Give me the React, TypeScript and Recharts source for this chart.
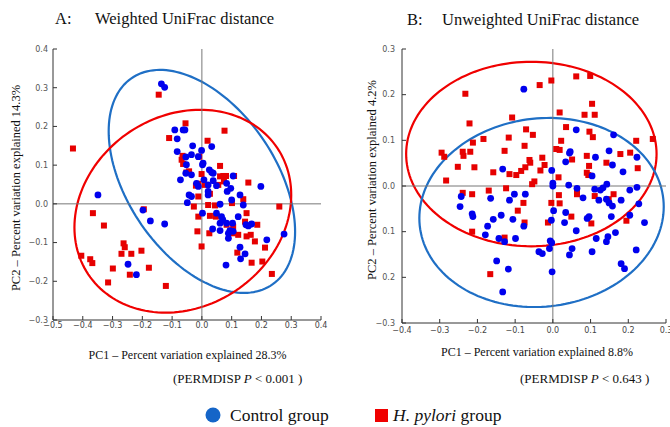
import React from 'react';
import { ScatterChart, Scatter, XAxis, YAxis, ReferenceLine, ReferenceArea } from 'recharts';

// ---- Panel A: weighted UniFrac, PC1 / PC2 ----
const weightedControl: [number, number][] = [
  [-0.136, 0.310], [-0.125, 0.301], [-0.091, 0.191], [-0.063, 0.191], [-0.057, 0.191],
  [-0.083, 0.168], [-0.031, 0.150], [-0.001, 0.138], [0.033, 0.148], [-0.083, 0.135],
  [-0.054, 0.121], [-0.035, 0.127], [-0.012, 0.122], [0.004, 0.105], [0.002, 0.101],
  [0.025, 0.088], [0.033, 0.081], [-0.052, 0.101], [-0.054, 0.079], [-0.072, 0.062],
  [-0.035, 0.075], [-0.018, 0.053], [-0.012, 0.045], [0.007, 0.062], [0.021, 0.049],
  [0.038, 0.060], [0.049, 0.047], [0.083, 0.053], [0.085, 0.032], [0.097, 0.040],
  [0.105, 0.072], [-0.043, 0.023], [-0.035, 0.019], [0.021, 0.032], [0.021, 0.023],
  [-0.049, 0.003], [-0.349, 0.023], [-0.198, -0.016], [-0.173, -0.044], [-0.125, -0.052],
  [0.002, -0.024], [0.061, -0.001], [0.100, 0.010], [0.128, 0.023], [0.139, -0.003],
  [0.049, -0.024], [0.066, -0.033], [0.061, -0.050], [0.070, -0.041], [0.083, -0.050],
  [0.103, -0.050], [0.061, -0.069], [0.036, -0.065], [0.089, -0.076], [0.094, -0.069],
  [0.105, -0.071], [0.089, -0.089], [0.122, -0.033], [0.148, -0.054], [0.156, -0.057],
  [0.167, -0.052], [0.198, 0.045], [0.218, -0.093], [0.276, -0.078], [0.128, -0.112],
  [0.145, -0.129], [0.130, -0.142], [0.081, -0.158], [-0.248, -0.156], [-0.220, -0.183],
  [0.038, 0.079],
];

const weightedPylori: [number, number][] = [
  [-0.145, 0.282], [-0.055, 0.208], [-0.110, 0.170], [0.019, 0.163], [0.076, 0.189],
  [-0.433, 0.143], [-0.065, 0.124], [-0.068, 0.114], [-0.009, 0.122], [-0.063, 0.103],
  [-0.052, 0.081], [-0.043, 0.084], [-0.001, 0.077], [0.061, 0.098], [0.061, 0.071],
  [0.072, 0.072], [0.081, 0.072], [0.074, 0.058], [-0.012, 0.052], [-0.020, 0.047],
  [0.010, 0.049], [0.055, 0.049], [0.108, 0.072], [0.156, 0.055], [0.027, 0.026],
  [-0.027, -0.007], [-0.012, 0.019], [0.021, -0.003], [0.044, -0.004], [0.101, 0.002],
  [0.139, 0.012], [0.150, -0.024], [0.260, -0.007], [-0.195, -0.014], [-0.366, -0.024],
  [-0.329, -0.056], [-0.012, -0.033], [0.027, -0.031], [0.047, -0.033], [0.083, -0.054],
  [0.105, -0.059], [0.145, -0.046], [0.186, -0.054], [-0.015, -0.071], [0.025, -0.076],
  [0.122, -0.080], [0.150, -0.084], [0.164, -0.080], [0.178, -0.097], [-0.263, -0.102],
  [-0.259, -0.112], [-0.270, -0.129], [-0.237, -0.129], [-0.203, -0.121], [-0.405, -0.134],
  [-0.375, -0.143], [-0.368, -0.153], [-0.299, -0.167], [-0.242, -0.183], [-0.178, -0.165],
  [-0.315, -0.203], [-0.121, -0.212], [-0.001, -0.110], [0.212, -0.113], [0.119, -0.126],
  [0.167, -0.152], [0.203, -0.149], [0.235, -0.181], [0.105, -0.076],
];

// ---- Panel B: unweighted UniFrac ----
const unweightedControl: [number, number][] = [
  [-0.077, 0.212], [0.062, 0.123], [0.161, 0.112], [0.044, 0.072], [0.046, 0.075],
  [0.034, 0.053], [0.113, 0.063], [0.149, 0.077], [0.158, 0.046], [0.223, 0.063],
  [0.186, 0.031], [-0.133, 0.037], [-0.003, 0.034], [0.104, 0.022], [0.000, 0.006],
  [0.000, 0.000], [0.042, 0.002], [0.064, -0.005], [0.080, -0.026], [0.111, -0.007],
  [0.126, -0.009], [0.133, -0.004], [0.143, 0.004], [0.122, -0.031], [0.142, -0.029],
  [0.149, -0.037], [0.158, -0.044], [0.204, -0.009], [0.223, -0.003], [0.181, -0.031],
  [0.228, -0.039], [-0.243, -0.023], [-0.246, -0.045], [-0.214, -0.061], [-0.212, -0.067],
  [-0.165, -0.027], [-0.115, -0.031], [-0.102, -0.018], [-0.073, -0.018], [-0.137, -0.064],
  [-0.158, -0.073], [-0.173, -0.088], [-0.106, -0.073], [-0.077, -0.088], [-0.179, -0.107],
  [-0.143, -0.115], [-0.099, -0.115], [-0.128, -0.122], [0.002, -0.054], [-0.004, -0.075],
  [0.034, -0.058], [0.031, -0.080], [0.096, -0.067], [0.091, -0.071], [0.062, -0.098],
  [0.155, -0.067], [0.204, -0.064], [0.166, -0.102], [0.243, -0.080], [0.115, -0.115],
  [0.146, -0.111], [0.142, -0.122], [0.181, -0.170], [0.190, -0.181], [0.104, -0.144],
  [0.051, -0.137], [0.044, -0.151], [-0.007, -0.120], [-0.003, -0.124], [-0.009, -0.137],
  [-0.037, -0.144], [-0.028, -0.148], [-0.002, -0.188], [-0.149, -0.164], [-0.118, -0.182],
  [-0.133, -0.232], [0.221, -0.140],
];

const unweightedPylori: [number, number][] = [
  [0.062, 0.240], [0.099, 0.241], [-0.035, 0.221], [-0.004, 0.231], [-0.232, 0.202],
  [0.104, 0.180], [0.111, 0.156], [0.084, 0.156], [0.018, 0.161], [-0.108, 0.150],
  [-0.221, 0.137], [0.035, 0.129], [-0.071, 0.124], [-0.053, 0.112], [0.097, 0.119],
  [0.106, 0.107], [-0.212, 0.095], [-0.184, 0.103], [-0.117, 0.106], [0.022, 0.099],
  [0.221, 0.099], [0.265, 0.103], [-0.075, 0.088], [0.009, 0.081], [0.018, 0.079],
  [-0.128, 0.077], [-0.295, 0.073], [-0.288, 0.064], [-0.239, 0.075], [-0.237, 0.066],
  [-0.219, 0.075], [-0.028, 0.062], [0.051, 0.058], [0.090, 0.066], [0.179, 0.070],
  [0.205, 0.073], [-0.062, 0.057], [-0.060, 0.051], [-0.022, 0.046], [0.142, 0.051],
  [0.096, 0.044], [-0.252, 0.042], [-0.208, 0.041], [-0.073, 0.041], [-0.084, 0.033],
  [-0.097, 0.024], [-0.115, 0.026], [-0.033, 0.034], [-0.158, 0.030], [0.090, 0.029],
  [0.094, 0.024], [0.225, 0.039], [-0.283, 0.012], [-0.049, 0.010], [-0.055, 0.004],
  [0.015, 0.019], [-0.124, -0.005], [-0.170, -0.010], [-0.239, -0.015], [-0.214, -0.018],
  [0.064, -0.012], [0.064, -0.018], [0.016, -0.020], [0.111, -0.022], [0.148, -0.029],
  [0.161, -0.018], [-0.004, -0.037], [0.018, -0.038], [-0.078, -0.037], [-0.093, -0.054],
  [0.049, -0.067], [-0.075, -0.080], [-0.013, -0.080], [0.102, -0.082], [0.195, -0.076],
  [-0.214, -0.100], [-0.128, -0.113], [-0.166, -0.193],
];

// group ellipses: centre, half extents, correlation
const weightedEllipses = [
  { cx: 0.0, cy: 0.058, rx: 0.313, ry: 0.288, rho: -0.45, color: '#1f6fc5' },
  { cx: -0.064, cy: -0.019, rx: 0.364, ry: 0.262, rho: 0.16, color: '#f00000' },
];
const unweightedEllipses = [
  { cx: -0.057, cy: 0.070, rx: 0.332, ry: 0.202, rho: 0.0, color: '#f00000' },
  { cx: -0.030, cy: -0.058, rx: 0.324, ry: 0.207, rho: 0.06, color: '#1f6fc5' },
];

const weightedXTicks = [-0.5, -0.4, -0.3, -0.2, -0.1, 0, 0.1, 0.2, 0.3, 0.4];
const weightedYTicks = [-0.3, -0.2, -0.1, 0, 0.1, 0.2, 0.3, 0.4];
const unweightedXTicks = [-0.4, -0.3, -0.2, -0.1, 0, 0.1, 0.2, 0.3];
const unweightedYTicks = [-0.3, -0.2, -0.1, 0, 0.1, 0.2, 0.3];
const unweightedYLabels = ['\u22120.3', '0.2', '0.1', '0.0', '0.1', '0.2', '0.3'];

const CONTROL = '#0000ee';
const PYLORI = '#e60000';
const AXIS = '#333';
const TICK_FONT = '"DejaVu Sans", sans-serif';
const SERIF = '"Liberation Serif", "Times New Roman", serif';

const fmt = (v: number) => (v < 0 ? '\u2212' : '') + Math.abs(v).toFixed(1);
const toPoints = (arr: [number, number][]) => arr.map(([x, y]) => ({ x, y }));

const Dot = (props: any) => <circle cx={props.cx} cy={props.cy} r={3.4} fill={CONTROL} />;
const Square = (props: any) => <rect x={props.cx - 3} y={props.cy - 3} width={6} height={6} fill={PYLORI} />;

const ellipseShape = (rho: number, color: string) => (props: any) => {
  const { x, y, width, height } = props;
  const cx = x + width / 2;
  const cy = y + height / 2;
  const s = Math.sqrt(1 - rho * rho);
  const pts: string[] = [];
  for (let i = 0; i <= 160; i++) {
    const t = (i / 160) * Math.PI * 2;
    pts.push(`${cx + (width / 2) * Math.cos(t)},${cy - (height / 2) * (rho * Math.cos(t) + s * Math.sin(t))}`);
  }
  return <polygon points={pts.join(' ')} fill="none" stroke={color} strokeWidth={2.2} />;
};

const bottomTick = (margin: number) => (props: any) => {
  const { x, y, payload } = props;
  const ay = y - margin;
  return (
    <g>
      <line x1={x} x2={x} y1={ay} y2={ay - 4} stroke={AXIS} />
      <text x={x} y={y} dy="0.71em" textAnchor="middle" fontSize={8} fontFamily={TICK_FONT} fill="#444">
        {fmt(payload.value)}
      </text>
    </g>
  );
};
const leftTick = (margin: number, labels?: string[], ticks?: number[]) => (props: any) => {
  const { x, y, payload } = props;
  const ax = x + margin;
  const i = ticks ? ticks.indexOf(payload.value) : -1;
  return (
    <g>
      <line x1={ax} x2={ax + 4} y1={y} y2={y} stroke={AXIS} />
      <text x={x} y={y} dy="0.35em" textAnchor="end" fontSize={8} fontFamily={TICK_FONT} fill="#555">
        {labels && i >= 0 ? labels[i] : fmt(payload.value)}
      </text>
    </g>
  );
};
const TopTick = (props: any) => <line x1={props.x} x2={props.x} y1={props.y} y2={props.y + 4} stroke={AXIS} />;
const RightTick = (props: any) => <line x1={props.x} x2={props.x - 4} y1={props.y} y2={props.y} stroke={AXIS} />;

type PanelProps = {
  control: [number, number][];
  pylori: [number, number][];
  ellipses: typeof weightedEllipses;
  xDomain: [number, number];
  yDomain: [number, number];
  xTicks: number[];
  yTicks: number[];
  yLabels?: string[];
  margin: { top: number; right: number; bottom: number; left: number };
  xTickMargin: number;
  yTickMargin: number;
};

const Panel = (p: PanelProps) => (
  <ScatterChart width={335} height={340} margin={p.margin}>
    <XAxis xAxisId="b" type="number" dataKey="x" domain={p.xDomain} ticks={p.xTicks} allowDataOverflow interval={0}
      height={16} tickSize={0} tickMargin={p.xTickMargin} stroke={AXIS} tick={bottomTick(p.xTickMargin)} />
    <XAxis xAxisId="t" type="number" orientation="top" domain={p.xDomain} ticks={p.xTicks} allowDataOverflow interval={0}
      height={0} tickSize={0} tickMargin={0} stroke={AXIS} tick={TopTick} />
    <YAxis yAxisId="l" type="number" dataKey="y" domain={p.yDomain} ticks={p.yTicks} allowDataOverflow interval={0}
      width={30} tickSize={0} tickMargin={p.yTickMargin} stroke={AXIS} tick={leftTick(p.yTickMargin, p.yLabels, p.yTicks)} />
    <YAxis yAxisId="r" type="number" orientation="right" domain={p.yDomain} ticks={p.yTicks} allowDataOverflow interval={0}
      width={0} tickSize={0} tickMargin={0} stroke={AXIS} tick={RightTick} />
    <ReferenceLine xAxisId="b" yAxisId="l" x={0} stroke="#777" strokeWidth={1} />
    <ReferenceLine xAxisId="b" yAxisId="l" y={0} stroke="#777" strokeWidth={1} />
    <Scatter xAxisId="b" yAxisId="l" data={toPoints(p.pylori)} shape={Square} isAnimationActive={false} />
    <Scatter xAxisId="b" yAxisId="l" data={toPoints(p.control)} shape={Dot} isAnimationActive={false} />
    {p.ellipses.map((e, i) => (
      <ReferenceArea key={i} xAxisId="b" yAxisId="l" x1={e.cx - e.rx} x2={e.cx + e.rx} y1={e.cy - e.ry} y2={e.cy + e.ry}
        ifOverflow="visible" shape={ellipseShape(e.rho, e.color)} />
    ))}
  </ScatterChart>
);

export default function App() {
  return (
    <div style={{ position: 'absolute', left: 0, top: 0, width: 670, height: 427, background: '#fff', overflow: 'hidden' }}>
      <div style={{ position: 'absolute', left: 0, top: 0 }}>
        <Panel control={weightedControl} pylori={weightedPylori} ellipses={weightedEllipses}
          xDomain={[-0.5, 0.4]} yDomain={[-0.3, 0.4]} xTicks={weightedXTicks} yTicks={weightedYTicks}
          margin={{ top: 49, right: 14, bottom: 4, left: 23 }} xTickMargin={2} yTickMargin={5} />
      </div>
      <div style={{ position: 'absolute', left: 335, top: 0 }}>
        <Panel control={unweightedControl} pylori={unweightedPylori} ellipses={unweightedEllipses}
          xDomain={[-0.4, 0.3]} yDomain={[-0.3, 0.3]} xTicks={unweightedXTicks} yTicks={unweightedYTicks}
          yLabels={unweightedYLabels}
          margin={{ top: 49, right: 4, bottom: 1, left: 37 }} xTickMargin={4} yTickMargin={7} />
      </div>
      <svg width={670} height={427} style={{ position: 'absolute', left: 0, top: 0, pointerEvents: 'none' }}
        fontFamily={SERIF} fill="#111">
        <text x={55} y={24} fontSize={16.5}>A:</text>
        <text x={95} y={24} fontSize={16.5}>Weighted UniFrac distance</text>
        <text x={407} y={25} fontSize={16.5}>B:</text>
        <text x={442} y={25} fontSize={16.5}>Unweighted UniFrac distance</text>

        <text x={0} y={0} fontSize={12.5} textAnchor="middle" transform="translate(20,188) rotate(-90)">
          PC2 – Percent variation explained 14.3%
        </text>
        <text x={0} y={0} fontSize={12.5} textAnchor="middle" transform="translate(376,180) rotate(-90)">
          PC2 – Percent variation explained 4.2%
        </text>
        <text x={187.5} y={359} fontSize={12} textAnchor="middle">PC1 – Percent variation explained 28.3%</text>
        <text x={537} y={356} fontSize={12} textAnchor="middle">PC1 – Percent variation explained 8.8%</text>

        <text x={173} y={383} fontSize={13}>(PERMDISP <tspan fontStyle="italic">P</tspan> &lt; 0.001 )</text>
        <text x={520} y={383} fontSize={13}>(PERMDISP <tspan fontStyle="italic">P</tspan> &lt; 0.643 )</text>

        <circle cx={213} cy={415} r={7.5} fill="#1565c8" />
        <text x={230} y={421} fontSize={17.5}>Control group</text>
        <rect x={375} y={409} width={13} height={13} fill="#f00000" />
        <text x={393} y={421} fontSize={17.5}><tspan fontStyle="italic">H. pylori</tspan> group</text>
      </svg>
    </div>
  );
}
